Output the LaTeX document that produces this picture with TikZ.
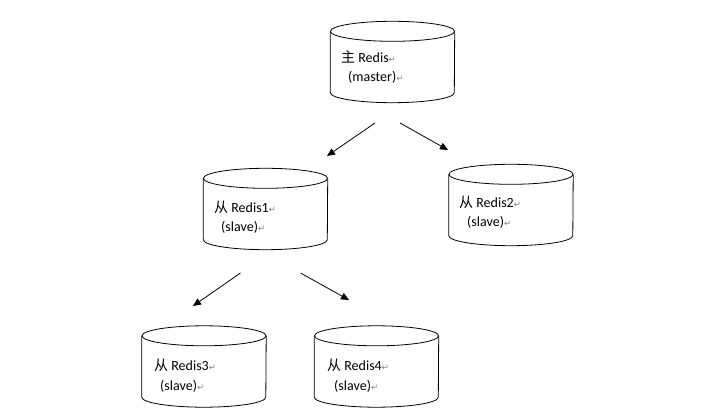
\documentclass[tikz,border=0pt]{standalone}
\usepackage{fontspec}
\setmainfont{Carlito}
\newfontfamily\cjk{Noto Sans CJK SC}
\newfontfamily\symfont{DejaVu Sans}
\usetikzlibrary{arrows.meta,calc}
\newcommand\retmark{{\symfont\fontsize{8.5}{9}\selectfont\textcolor{gray}{↵}}}
\tikzset{
  cylbox/.style={minimum width=124pt, minimum height=81pt, inner sep=0pt, draw=none},
  lbl/.style={anchor=base west, inner sep=0pt, font=\fontsize{14}{16}\selectfont},
  link/.style={-{Triangle[length=8pt,width=7pt]}, line width=0.8pt},
  cylline/.style={line width=0.8pt, draw=black},
}
\newcommand\drawcyl[1]{%
  \draw[cylline] ($(#1.north west)+(0,-10pt)$) -- ($(#1.south west)+(0,10pt)$)
    arc[start angle=180,end angle=360,x radius=62pt,y radius=10pt]
    -- ($(#1.north east)+(0,-10pt)$);
  \draw[cylline] ($(#1.north)+(0,-10pt)$) ellipse[x radius=62pt,y radius=10pt];
}
\begin{document}
\begin{tikzpicture}[x=1pt,y=-1pt]
\useasboundingbox[fill=white] (0,0) rectangle (706,419);
% cylinders
\node[cylbox] (master) at (392.5,62) {};
\node[cylbox] (r1) at (265.5,209) {};
\node[cylbox] (r2) at (511,205) {};
\node[cylbox] (r3) at (204,366.5) {};
\node[cylbox] (r4) at (376.5,366.5) {};
\drawcyl{master}
\drawcyl{r1}
\drawcyl{r2}
\drawcyl{r3}
\drawcyl{r4}
% labels
\node[lbl] (mt1) at (341,63) {{\cjk 主} Redis\retmark};
\node[lbl] (mt2) at (348,81.5) {(master)\retmark};
\node[lbl] (r1t1) at (214,213) {{\cjk 从} Redis1\retmark};
\node[lbl] (r1t2) at (221,232) {(slave)\retmark};
\node[lbl] (r2t1) at (459,208) {{\cjk 从} Redis2\retmark};
\node[lbl] (r2t2) at (467,227) {(slave)\retmark};
\node[lbl] (r3t1) at (154,370) {{\cjk 从} Redis3\retmark};
\node[lbl] (r3t2) at (160,390) {(slave)\retmark};
\node[lbl] (r4t1) at (327,370) {{\cjk 从} Redis4\retmark};
\node[lbl] (r4t2) at (334,390) {(slave)\retmark};
% arrows
\coordinate (a1s) at (375,123);
\coordinate (a1e) at (327,156);
\coordinate (a2s) at (400,123);
\coordinate (a2e) at (448,150);
\coordinate (a3s) at (240.5,273);
\coordinate (a3e) at (193,306);
\coordinate (a4s) at (300.5,273);
\coordinate (a4e) at (349,300);
\draw[link] (a1s) -- (a1e);
\draw[link] (a2s) -- (a2e);
\draw[link] (a3s) -- (a3e);
\draw[link] (a4s) -- (a4e);
\end{tikzpicture}
\end{document}
